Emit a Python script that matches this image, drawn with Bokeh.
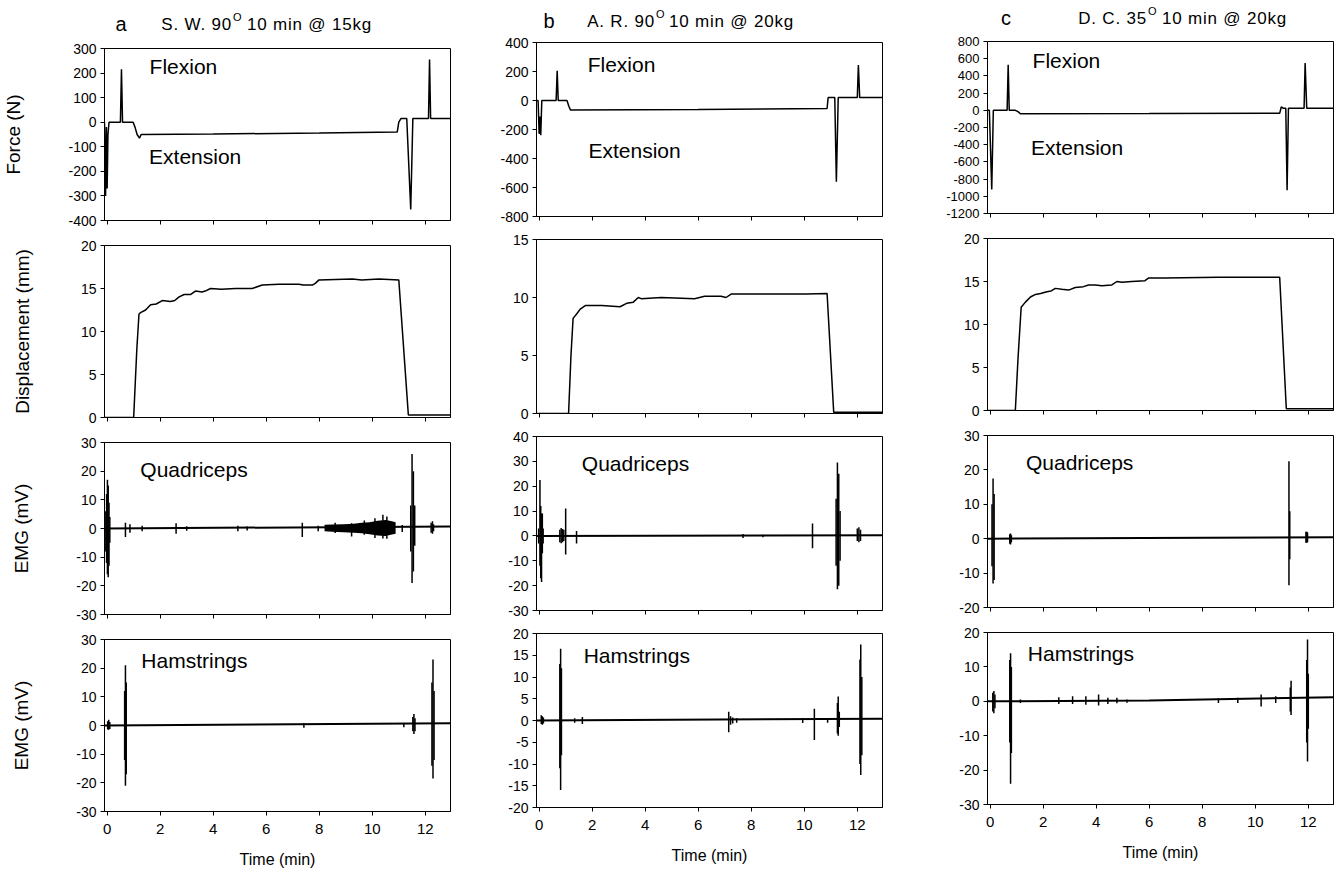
from bokeh.plotting import figure
from bokeh.layouts import row, column
from bokeh.models import Range1d, FixedTicker, Label, Div, PrintfTickFormatter
from bokeh.embed import file_html
from bokeh.resources import INLINE

FONT = "Liberation Sans"

# ---------------- data ----------------
time_ticks = [0, 2, 4, 6, 8, 10, 12]

# Force (N)
force_a_t = [-0.1, -0.06, -0.03, 0.0, 0.03, 0.07, 0.5, 0.54, 0.58, 0.98, 1.05, 1.13, 1.22, 1.28,
             4.0, 8.0, 10.94, 11.0, 11.08, 11.3, 11.45, 11.53, 12.12, 12.16, 12.2, 12.95]
force_a_v = [0, -300, -20, -270, -50, 0, 0, 215, 0, 0, -20, -50, -65, -50,
             -48, -44, -40, 0, 15, 15, -355, 15, 15, 255, 15, 15]
force_b_t = [-0.1, -0.04, 0.0, 0.03, 0.06, 0.1, 0.64, 0.68, 0.72, 1.05, 1.12, 1.18, 6.0,
             10.86, 10.9, 11.15, 11.21, 11.28, 12.0, 12.04, 12.09, 12.95]
force_b_v = [0, 0, -230, -110, -240, 0, 0, 205, 0, 0, -40, -65, -62,
             -55, 20, 20, -560, 20, 20, 245, 20, 20]
force_c_t = [-0.1, -0.03, 0.06, 0.12, 0.64, 0.68, 0.72, 0.95, 1.05, 1.14, 6.0, 10.92, 10.98,
             11.05, 11.15, 11.2, 11.25, 11.84, 11.88, 11.94, 12.95]
force_c_v = [0, 0, -920, 0, 0, 530, 0, 0, -15, -40, -38, -35, 40,
             25, 25, -930, 25, 25, 550, 25, 25]

# Displacement (mm)
disp_a_t = [-0.1, 1.0, 1.12, 1.2, 1.26, 1.45, 1.64, 1.85, 2.08, 2.39, 2.55, 2.7, 2.9, 3.14, 3.33,
            3.58, 3.7, 3.9, 4.3, 4.84, 5.47, 5.85, 6.48, 7.23, 7.4, 7.74, 7.85, 7.99, 9.25, 9.6,
            10.25, 11.0, 11.36, 12.95]
disp_a_v = [0, 0, 8, 12.0, 12.2, 12.5, 13.1, 13.2, 13.6, 13.5, 13.6, 14.0, 14.3, 14.3, 14.7,
            14.6, 14.7, 15.0, 14.9, 15.0, 15.0, 15.4, 15.5, 15.5, 15.4, 15.4, 15.6, 16.0, 16.1, 16.0,
            16.1, 16.0, 0.3, 0.3]
disp_b_t = [-0.1, 1.11, 1.2, 1.28, 1.42, 1.55, 1.74, 2.36, 3.05, 3.3, 3.55, 3.74, 3.85, 4.61,
            5.86, 6.24, 6.86, 7.05, 7.24, 10.1, 10.86, 11.11, 12.95]
disp_b_v = [0, 0, 5, 8.2, 8.6, 9.0, 9.3, 9.3, 9.2, 9.5, 9.6, 10.0, 9.9, 10.0,
            9.9, 10.1, 10.1, 10.0, 10.3, 10.3, 10.35, 0.1, 0.1]
disp_c_t = [-0.1, 0.95, 1.05, 1.17, 1.33, 1.52, 1.71, 1.9, 2.14, 2.3, 2.46, 2.7, 2.96, 3.21, 3.52,
            3.71, 3.96, 4.21, 4.59, 4.78, 4.97, 5.34, 5.84, 5.97, 6.6, 8.6, 10.92, 11.17, 12.95]
disp_c_v = [0, 0, 6, 12.0, 12.6, 13.2, 13.5, 13.6, 13.8, 13.9, 14.2, 14.1, 14.0, 14.3, 14.4,
            14.6, 14.6, 14.5, 14.6, 15.0, 14.9, 15.0, 15.1, 15.4, 15.4, 15.5, 15.5, 0.2, 0.2]

# EMG baselines (mV)
quad_a_base_t = [-0.1, 12.95]
quad_a_base_v = [0.0, 0.7]
ham_a_base_t = [-0.1, 12.95]
ham_a_base_v = [0.0, 0.8]
quad_b_base_t = [-0.1, 12.95]
quad_b_base_v = [0.0, 0.3]
ham_b_base_t = [-0.1, 12.95]
ham_b_base_v = [0.0, 0.4]
quad_c_base_t = [-0.1, 12.95]
quad_c_base_v = [0.0, 0.4]
ham_c_base_t = [-0.1, 6.0, 12.95]
ham_c_base_v = [0.0, 0.2, 1.2]

# EMG bursts: time, peak high, peak low
quad_a_t = [-0.05, -0.02, 0.01, 0.04, 0.07, 0.1, 0.69, 0.86, 1.32, 2.6, 3.0, 4.93, 5.28, 7.36, 7.96,
            8.6, 9.22, 9.7, 10.1, 10.4, 10.55, 11.13, 11.45, 11.5, 11.55, 11.6, 12.22, 12.27, 12.31]
quad_a_hi = [6, 12, 17, 15, 9, 4, 2, 1.5, 1, 1.8, 0.8, 1, 0.7, 2, 1,
             2.0, 1.8, 2.8, 3.6, 4.8, 4.2, 1.2, 8, 26, 20, 8, 2, 2.5, 1.5]
quad_a_lo = [-8, -12, -16, -17, -13, -5, -3, -1.5, -1, -1.8, -0.8, -1, -0.7, -3, -1,
             -1.6, -2.8, -2.2, -3.3, -3.5, -3.6, -1.2, -8, -19, -15, -6, -1.5, -1.8, -1]
# dense noisy activity band (envelope)
quad_a_band_t = [8.2, 8.5, 8.9, 9.3, 9.6, 9.9, 10.2, 10.5, 10.7, 10.88]
quad_a_band_hi = [1.3, 1.4, 1.5, 1.7, 2.0, 2.2, 2.7, 3.0, 2.6, 2.2]
quad_a_band_lo = [-1.0, -1.1, -1.3, -1.5, -1.7, -2.0, -2.4, -2.6, -2.2, -1.8]

ham_a_t = [0.02, 0.06, 0.1, 0.66, 0.69, 0.72, 7.42, 11.19, 11.53, 11.57, 11.61, 12.25, 12.29, 12.33]
ham_a_hi = [1.5, 2, 1.2, 12, 21, 15, 0.8, 0.6, 3, 4, 2.5, 15, 23, 12]
ham_a_lo = [-1.4, -1.5, -1.2, -12, -21, -17, -0.8, -0.6, -2, -3, -2, -14, -18.5, -12]

quad_b_t = [-0.02, 0.03, 0.06, 0.09, 0.12, 0.15, 0.78, 0.83, 0.88, 0.93, 1.0, 1.41, 7.69, 8.44,
            10.31, 11.2, 11.25, 11.3, 11.35, 12.0, 12.06, 12.12]
quad_b_hi = [3, 22.5, 12, 9, 9, 3, 2.5, 3.2, 2.8, 2.5, 11, 2, 0.8, 0.5,
             5, 15, 29.5, 25, 10, 3, 3.5, 2.5]
quad_b_lo = [-3, -12, -17, -18.5, -7, -3, -2.5, -2.9, -2.5, -2, -7.5, -3, -0.8, -0.5,
             -5, -12, -21.5, -20, -10, -2, -2.5, -2]

ham_b_t = [0.08, 0.12, 0.16, 0.78, 0.81, 0.84, 1.34, 1.63, 7.15, 7.22, 7.3, 7.45, 9.94, 10.38,
           10.88, 11.25, 11.28, 11.32, 12.1, 12.13, 12.17]
ham_b_hi = [1.2, 1, 0.7, 13, 16.5, 12, 0.5, 0.8, 2, 1, 0.7, 0.5, 0.6, 2.7,
            0.5, 4, 5.5, 2, 14, 17.5, 10]
ham_b_lo = [-0.8, -1, -0.7, -11, -16, -8, -0.5, -0.8, -2.7, -1, -0.7, -0.5, -0.6, -4.5,
            -0.5, -3, -3.5, -1.5, -10, -12.5, -8]

quad_c_t = [0.07, 0.11, 0.15, 0.74, 0.77, 0.8, 11.27, 11.3, 11.91, 11.94, 11.97]
quad_c_hi = [10, 17.5, 13, 1.3, 1.5, 1, 22.5, 8, 2, 2, 1.8]
quad_c_lo = [-8, -13, -12, -1.5, -1.7, -1, -13.5, -6, -1.2, -1.2, -1]

ham_c_t = [0.1, 0.14, 0.18, 0.74, 0.77, 0.8, 1.14, 2.59, 3.11, 3.61, 4.09, 4.44, 4.78, 5.16,
           8.61, 9.34, 10.22, 10.77, 11.32, 11.35, 11.94, 11.97, 12.0]
ham_c_hi = [2.5, 3, 2, 12, 14, 10, 0.5, 1.2, 1.5, 1.5, 2, 1, 1, 0.5,
            0.8, 1, 2, 1.5, 4, 6, 12, 18, 8]
ham_c_lo = [-3, -3.5, -2, -12, -24, -15, -0.5, -0.8, -0.8, -1, -1.2, -0.8, -0.6, -0.4,
            -0.5, -0.5, -1.5, -0.5, -3, -4, -12, -17.5, -8]

# axis ticks
force_a_ticks = list(range(-400, 301, 100))
force_b_ticks = list(range(-800, 401, 200))
force_c_ticks = list(range(-1200, 801, 200))
disp_a_ticks = [0, 5, 10, 15, 20]
disp_b_ticks = [0, 5, 10, 15]
disp_c_ticks = [0, 5, 10, 15, 20]
quad_a_ticks = list(range(-30, 31, 10))
quad_b_ticks = list(range(-30, 41, 10))
quad_c_ticks = list(range(-20, 31, 10))
ham_a_ticks = list(range(-30, 31, 10))
ham_b_ticks = list(range(-20, 21, 5))
ham_c_ticks = list(range(-30, 21, 10))

# panel titles
title_letters = ["a", "b", "c"]
title_main = ["S. W. 90", "A. R. 90", "D. C. 35"]
title_rest = ["10 min @ 15kg", "10 min @ 20kg", "10 min @ 20kg"]

X_START, X_END = -0.1, 12.95
FW = 346
TOPB = 10  # top border of each figure (room for top tick label)


def make_fig(fh, yticks, mbl, mbr, mbt, mbb, ylabel=None, ystandoff=30, bottom=False, ysize="14px"):
    p = figure(frame_width=FW, frame_height=fh,
               x_range=Range1d(X_START, X_END), y_range=Range1d(yticks[0], yticks[-1]),
               output_backend="svg", toolbar_location=None,
               min_border_left=mbl, min_border_right=mbr,
               min_border_top=mbt, min_border_bottom=mbb)
    p.xgrid.visible = False
    p.ygrid.visible = False
    p.outline_line_color = "black"
    p.outline_line_alpha = 1.0
    p.outline_line_width = 1
    p.background_fill_color = "white"
    p.border_fill_color = "white"
    for ax in (p.xaxis[0], p.yaxis[0]):
        ax.axis_line_color = "black"
        ax.axis_line_width = 1
        ax.major_tick_line_color = "black"
        ax.major_tick_out = 4
        ax.major_tick_in = 0
        ax.minor_tick_line_color = None
        ax.major_label_text_font = FONT
        ax.major_label_text_color = "black"
        ax.axis_label_text_font = FONT
        ax.axis_label_text_font_style = "normal"
        ax.axis_label_text_color = "black"
        ax.formatter = PrintfTickFormatter(format="%d")
    p.xaxis.ticker = FixedTicker(ticks=time_ticks)
    p.yaxis.ticker = FixedTicker(ticks=yticks)
    p.yaxis.major_label_text_font_size = ysize
    p.yaxis.major_label_standoff = 4
    if ylabel:
        p.yaxis.axis_label = ylabel
        p.yaxis.axis_label_text_font_size = "19px"
        p.yaxis.axis_label_standoff = ystandoff
    if bottom:
        p.xaxis.major_label_text_font_size = "15px"
        p.xaxis.major_label_standoff = 8
        p.xaxis.axis_label = "Time (min)"
        p.xaxis.axis_label_text_font_size = "16px"
        p.xaxis.axis_label_standoff = 14
    else:
        p.xaxis.major_label_text_font_size = "0px"
        p.xaxis.major_label_text_color = None
        p.xaxis.major_label_standoff = 0
    return p


def add_text(p, x, y, txt, size="21px"):
    p.add_layout(Label(x=x, y=y, text=txt, text_font=FONT, text_font_size=size,
                       text_baseline="middle", text_align="left", text_color="black"))


def title_div(i, width, height, lx, mright, ox, rx, cy, oy):
    span = "position:absolute;white-space:nowrap;"
    txt = "font-size:17px;line-height:17px;letter-spacing:0.8px;"
    html = (
        f'<div style="position:relative;width:{width}px;height:{height}px;'
        f'font-family:\'{FONT}\';color:black;">'
        f'<span style="{span}left:{lx - 10}px;width:20px;text-align:center;top:{cy - 10}px;'
        f'font-size:20px;line-height:20px;">{title_letters[i]}</span>'
        f'<span style="{span}left:{mright - 160}px;width:160px;text-align:right;top:{cy - 8}px;'
        f'{txt}">{title_main[i]}</span>'
        f'<span style="{span}left:{ox}px;top:{oy - 5}px;font-size:11px;line-height:11px;">O</span>'
        f'<span style="{span}left:{rx}px;top:{cy - 8}px;{txt}">'
        f'{title_rest[i]}</span></div>'
    )
    return Div(text=html, width=width, height=height, margin=(0, 0, 0, 0))


def emg(p, bt, bv, t, hi, lo):
    p.line(bt, bv, line_color="black", line_width=2)
    p.segment(x0=t, y0=lo, x1=t, y1=hi, line_color="black", line_width=1.5)


specs = [
    dict(mbl=101, mbr=8, divh=38, fh=172, gap=25, ysize_force="14px", so=(41, 45, 41),
         force=(force_a_t, force_a_v, force_a_ticks), disp=(disp_a_t, disp_a_v, disp_a_ticks),
         quad=(quad_a_base_t, quad_a_base_v, quad_a_t, quad_a_hi, quad_a_lo, quad_a_ticks),
         ham=(ham_a_base_t, ham_a_base_v, ham_a_t, ham_a_hi, ham_a_lo, ham_a_ticks),
         tpos=(121, 232, 233, 247, 24, 17),
         flex=(1.6, 225), ext=(1.58, -140), qlab=(1.25, 20.6), hlab=(1.29, 22.6)),
    dict(mbl=78, mbr=8, divh=32, fh=174, gap=23, ysize_force="14px", so=(36, 40, 36),
         force=(force_b_t, force_b_v, force_b_ticks), disp=(disp_b_t, disp_b_v, disp_b_ticks),
         quad=(quad_b_base_t, quad_b_base_v, quad_b_t, quad_b_hi, quad_b_lo, quad_b_ticks),
         ham=(ham_b_base_t, ham_b_base_v, ham_b_t, ham_b_hi, ham_b_lo, ham_b_ticks),
         tpos=(91, 197, 198, 211, 21, 14),
         flex=(1.83, 245), ext=(1.86, -348), qlab=(1.61, 29), hlab=(1.68, 15)),
    dict(mbl=97, mbr=1, divh=31, fh=172, gap=25, ysize_force="13px", so=(36, 40, 36),
         force=(force_c_t, force_c_v, force_c_ticks), disp=(disp_c_t, disp_c_v, disp_c_ticks),
         quad=(quad_c_base_t, quad_c_base_v, quad_c_t, quad_c_hi, quad_c_lo, quad_c_ticks),
         ham=(ham_c_base_t, ham_c_base_v, ham_c_t, ham_c_hi, ham_c_lo, ham_c_ticks),
         tpos=(116, 257, 258, 272, 18, 11),
         flex=(1.6, 579), ext=(1.54, -427), qlab=(1.35, 22.2), hlab=(1.42, 14)),
]

columns = []
for i, s in enumerate(specs):
    first = i == 0
    fh, gap = s["fh"], s["gap"]
    width = s["mbl"] + FW + s["mbr"]
    div = title_div(i, width, s["divh"], *s["tpos"])
    so_f, so_d, so_e = s["so"]
    # Force
    ft, fv, fticks = s["force"]
    p1 = make_fig(fh, fticks, s["mbl"], s["mbr"], TOPB, gap - TOPB,
                  ylabel="Force (N)" if first else None, ystandoff=so_f, ysize=s["ysize_force"])
    p1.line(ft, fv, line_color="black", line_width=1.5)
    add_text(p1, s["flex"][0], s["flex"][1], "Flexion")
    add_text(p1, s["ext"][0], s["ext"][1], "Extension")
    # Displacement
    dt, dv, dticks = s["disp"]
    p2 = make_fig(fh, dticks, s["mbl"], s["mbr"], TOPB, gap - TOPB,
                  ylabel="Displacement (mm)" if first else None, ystandoff=so_d)
    p2.line(dt, dv, line_color="black", line_width=1.5)
    # Quadriceps
    bt, bv, t, hi, lo, qticks = s["quad"]
    p3 = make_fig(fh, qticks, s["mbl"], s["mbr"], TOPB, gap - TOPB,
                  ylabel="EMG (mV)" if first else None, ystandoff=so_e)
    if first:
        p3.varea(x=quad_a_band_t, y1=quad_a_band_lo, y2=quad_a_band_hi, fill_color="black")
    emg(p3, bt, bv, t, hi, lo)
    add_text(p3, s["qlab"][0], s["qlab"][1], "Quadriceps")
    # Hamstrings
    bt, bv, t, hi, lo, hticks = s["ham"]
    p4 = make_fig(fh, hticks, s["mbl"], s["mbr"], TOPB, 0,
                  ylabel="EMG (mV)" if first else None, ystandoff=so_e, bottom=True)
    emg(p4, bt, bv, t, hi, lo)
    add_text(p4, s["hlab"][0], s["hlab"][1], "Hamstrings")
    columns.append(column(div, p1, p2, p3, p4, spacing=0))

layout = row(*columns, spacing=0)
open("out.html", "w").write(file_html(layout, INLINE))
